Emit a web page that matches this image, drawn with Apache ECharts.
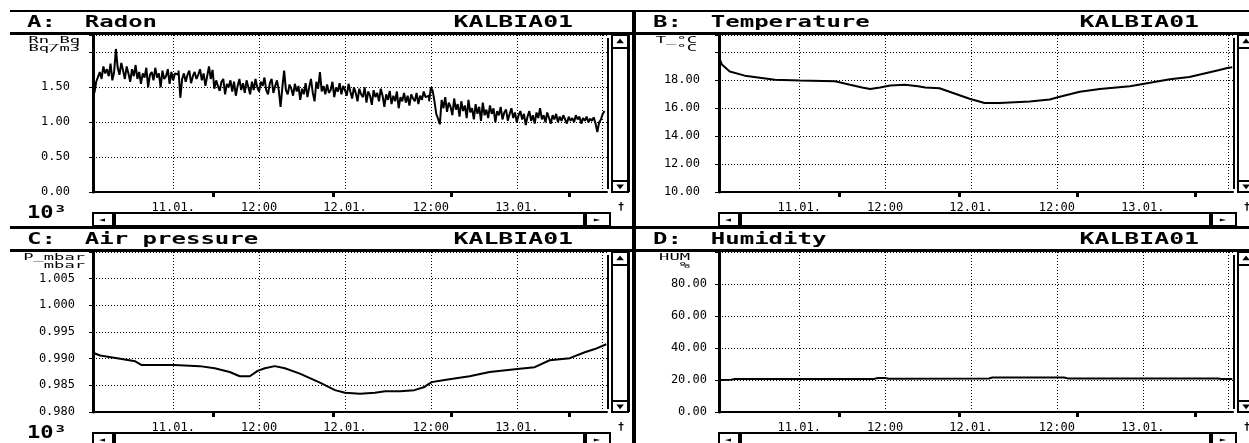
<!DOCTYPE html>
<html>
<head>
<meta charset="utf-8">
<script src="https://cdn.jsdelivr.net/npm/echarts@6/dist/echarts.min.js"></script>
<style>html,body{margin:0;padding:0;background:#fff}#main{width:1249px;height:443px}</style>
</head>
<body>
<div id="main"></div>
<script>
// time in hours from 11.01. 00:00
var xMin = -11.2, xMax = 60.6;
var gridHours = [0, 12, 24, 36, 48, 60];
var gridLabels = ['11.01.', '12:00', '12.01.', '12:00', '13.01.', ''];
var minorHours = [5.6, 22.3, 38.9, 55.3];

// radon, 10^3 Bq/m3, every 15 min from -11.0 h
var radonStart = -11.0, radonStep = 0.25;
var radon = [
  1.42,1.58,1.65,1.72,1.62,1.80,1.70,1.76,1.66,1.84,
  1.60,1.72,2.05,1.78,1.68,1.85,1.74,1.62,1.80,1.70,
  1.58,1.76,1.66,1.82,1.62,1.72,1.55,1.70,1.64,1.78,
  1.50,1.68,1.72,1.60,1.78,1.64,1.70,1.50,1.74,1.62,
  1.66,1.76,1.55,1.72,1.60,1.70,1.68,1.74,1.35,1.62,
  1.70,1.58,1.68,1.74,1.56,1.66,1.72,1.62,1.68,1.76,
  1.60,1.70,1.52,1.66,1.80,1.62,1.75,1.48,1.60,1.52,
  1.45,1.58,1.62,1.40,1.55,1.50,1.60,1.44,1.58,1.38,
  1.52,1.62,1.46,1.56,1.42,1.60,1.50,1.40,1.58,1.46,
  1.62,1.50,1.44,1.58,1.52,1.64,1.46,1.40,1.56,1.62,
  1.42,1.52,1.60,1.46,1.22,1.50,1.74,1.46,1.40,1.54,
  1.48,1.38,1.55,1.44,1.52,1.32,1.48,1.40,1.56,1.36,
  1.50,1.62,1.42,1.30,1.58,1.48,1.72,1.44,1.52,1.40,
  1.54,1.42,1.46,1.58,1.36,1.50,1.44,1.56,1.40,1.52,
  1.46,1.38,1.55,1.44,1.34,1.50,1.42,1.30,1.48,1.40,
  1.36,1.50,1.28,1.44,1.38,1.25,1.46,1.36,1.42,1.30,
  1.48,1.38,1.22,1.40,1.32,1.45,1.26,1.38,1.30,1.44,
  1.20,1.36,1.30,1.42,1.28,1.38,1.24,1.40,1.34,1.30,
  1.42,1.26,1.38,1.32,1.44,1.36,1.38,1.30,1.50,1.45,
  1.30,1.12,1.05,0.97,1.32,1.20,1.36,1.15,1.28,1.22,
  1.10,1.34,1.18,1.26,1.08,1.30,1.16,1.24,1.06,1.32,
  1.14,1.20,1.04,1.26,1.12,1.22,1.02,1.28,1.10,1.18,
  1.06,1.24,1.12,1.20,1.00,1.16,1.10,1.22,1.04,1.14,
  1.18,1.02,1.12,1.20,1.06,1.14,1.00,1.10,1.16,1.04,
  1.12,0.96,1.08,1.16,1.02,1.10,0.98,1.14,1.06,1.20,
  1.04,1.10,1.00,1.14,1.06,0.98,1.10,1.04,1.12,1.00,
  1.08,1.02,1.10,1.04,0.98,1.08,1.02,1.06,1.00,1.10,
  1.04,1.08,0.98,1.06,1.02,1.08,1.00,1.05,1.02,1.07,
  0.98,0.86,1.00,1.04,1.12,1.16];

var tempHours = [-11.2,-10.8,-9.7,-7.6,-5.5,-3.4,0.1,5.0,7.1,8.8,9.9,11.3,12.7,14.8,16.6,17.6,19.6,22.4,23.8,25.9,28.0,32.2,35.0,36.4,39.2,42.0,46.2,49.0,51.8,54.5,56.6,58.7,59.8,60.5];
var tempValues = [19.6,19.1,18.6,18.3,18.15,18.0,17.95,17.9,17.65,17.45,17.35,17.45,17.6,17.65,17.55,17.45,17.4,16.9,16.65,16.35,16.35,16.45,16.6,16.8,17.15,17.35,17.55,17.8,18.05,18.2,18.45,18.7,18.85,18.9];

// air pressure, 10^3 mbar
var presHours = [-11.2,-10.2,-7.4,-5.3,-4.4,0.2,3.7,5.8,7.9,9.3,10.7,11.8,12.8,14.2,15.6,17.7,20.5,22.6,24.0,26.1,28.2,29.6,31.7,33.7,35.1,36.1,37.9,41.4,44.2,48.4,50.5,52.6,55.4,57.5,58.9,60.5];
var presValues = [0.9911,0.9906,0.9900,0.9895,0.9888,0.9888,0.9886,0.9882,0.9875,0.9867,0.9867,0.9877,0.9882,0.9886,0.9882,0.9872,0.9855,0.9841,0.9836,0.9834,0.9836,0.9839,0.9839,0.9841,0.9847,0.9856,0.9860,0.9867,0.9875,0.9881,0.9884,0.9897,0.9901,0.9912,0.9918,0.9927];

var humHours = [-11.2,-9.5,-9.0,10.5,11.0,12.0,12.5,26.5,27.0,37.0,37.5,58.5,59.0,60.5];
var humValues = [20.0,20.2,20.6,20.7,21.2,21.2,20.8,20.9,21.6,21.6,21.0,21.0,20.6,20.6];

function pairs(xs, ys) { return ys.map(function (v, i) { return [xs[i], v]; }); }
var radonData = radon.map(function (v, i) { return [radonStart + i * radonStep, v]; });

var FONT = '"DejaVu Sans Mono", "Liberation Mono", monospace';

var panels = [
  {title: 'A:  Radon', u1: 'Rn_Bq', u2: 'Bq/m3', ux: 80, ox: 0, top: 10, gl: 93, gt: 35, gh: 157,
   min: 0, max: 2.25, interval: 0.5, hideFrom: 2, dec: 2, margin: 23, exp: true, data: radonData, step: 'end'},
  {title: 'B:  Temperature', u1: 'T_\u00b0C', u2: '\u00b0C', ux: 697, ox: 626, top: 10, gl: 719, gt: 35, gh: 157,
   min: 10, max: 21.2, interval: 2, hideFrom: 20, dec: 2, margin: 19, exp: false, data: pairs(tempHours, tempValues)},
  {title: 'C:  Air pressure', u1: 'P_mbar', u2: 'mbar', ux: 85, ox: 0, top: 227, gl: 93, gt: 252, gh: 160,
   min: 0.980, max: 1.010, interval: 0.005, hideFrom: 1.0099, dec: 3, margin: 18, exp: true, data: pairs(presHours, presValues)},
  {title: 'D:  Humidity', u1: 'HUM', u2: '%', ux: 690, ox: 626, top: 227, gl: 719, gt: 252, gh: 160,
   min: 0, max: 100, interval: 20, hideFrom: 100, dec: 2, margin: 12, exp: false, data: pairs(humHours, humValues)}
];

var GW = 514;
var grids = [], xAxes = [], yAxes = [], series = [], gfx = [];

function txt(x, y, s, font, align, sx) {
  return {type: 'text', x: x, y: y, scaleX: sx || 1, silent: true, z: 10,
    style: {text: s, font: font, fill: '#000', textAlign: align, align: align,
            textVerticalAlign: 'middle', verticalAlign: 'middle'}};
}
function box(x, y, w, h, filled, lw) {
  return {type: 'rect', silent: true, z: 10, shape: {x: x, y: y, width: w, height: h},
    style: filled ? {fill: '#000'} : {fill: '#fff', stroke: '#000', lineWidth: lw || 1}};
}

panels.forEach(function (p, i) {
  grids.push({left: p.gl, top: p.gt, width: GW, height: p.gh, containLabel: false});
  xAxes.push({
    gridIndex: i, type: 'value', min: xMin, max: xMax, position: 'bottom',
    axisLine: {show: true, onZero: false, lineStyle: {color: '#000', width: 2}},
    axisTick: {show: false, customValues: gridHours},
    axisLabel: {customValues: gridHours, margin: 10, color: '#000', fontFamily: FONT, fontSize: 12,
      formatter: function (v) { var k = gridHours.indexOf(v); return k < 0 ? '' : gridLabels[k]; }},
    splitLine: {show: true, lineStyle: {color: '#000', width: 1, type: [1, 2]}}
  });
  xAxes.push({
    gridIndex: i, type: 'value', min: xMin, max: xMax, position: 'bottom',
    axisLine: {show: false, onZero: false},
    axisTick: {show: true, customValues: minorHours, length: 5, lineStyle: {color: '#000', width: 3}},
    axisLabel: {show: false}, splitLine: {show: false}
  });
  yAxes.push({
    gridIndex: i, type: 'value', min: p.min, max: p.max, interval: p.interval,
    axisLine: {show: true, onZero: false, lineStyle: {color: '#000', width: 3}},
    axisTick: {show: true, length: 4, lineStyle: {color: '#000', width: 1}},
    axisLabel: {margin: p.margin, color: '#000', fontFamily: FONT, fontSize: 12,
      formatter: function (v) { return v >= p.hideFrom - 1e-9 ? '' : v.toFixed(p.dec); }},
    splitLine: {show: true, lineStyle: {color: '#000', width: 1, type: [1, 2]}}
  });
  series.push({
    type: 'line', xAxisIndex: 2 * i, yAxisIndex: i, data: p.data, step: p.step || false,
    showSymbol: false, symbol: 'none', lineStyle: {color: '#000', width: 2}, animation: false
  });

  // window frame decorations
  var px0 = p.ox ? 636 : 10, px1 = p.ox ? 1249 : 632;
  var right = p.gl + GW, bottom = p.gt + p.gh;
  gfx.push(box(px0, p.top, px1 - px0, 2, true));
  gfx.push(box(px0, p.top + 22, px1 - px0, 3, true));
  gfx.push(txt(px0 + 17, p.top + 13, p.title, 'bold 16px ' + FONT, 'left', 1.5));
  gfx.push(txt(right - 34, p.top + 13, 'KALBIA01', 'bold 16px ' + FONT, 'right', 1.55));
  gfx.push(txt(p.ux, p.gt + 6, p.u1, '9px ' + FONT, 'right', 1.9));
  gfx.push(txt(p.ux, p.gt + 14, p.u2, '9px ' + FONT, 'right', 1.9));
  // plot right edge
  gfx.push(box(right, p.gt + 3, 2, p.gh - 6, true));
  // vertical scrollbar
  var vx = right + 5;
  gfx.push(box(vx, p.gt, 16, p.gh, false, 2));
  gfx.push(box(vx, p.gt + 12, 16, 2, true));
  gfx.push(box(vx, bottom - 12, 16, 2, true));
  gfx.push(txt(vx + 8, p.gt + 6, '\u25b2', '8px ' + FONT, 'center', 1.6));
  gfx.push(txt(vx + 8, bottom - 5, '\u25bc', '8px ' + FONT, 'center', 1.6));
  gfx.push(box(vx + 15, p.gt, 3, p.gh, true));
  // horizontal scrollbar
  var hy = bottom + 21;
  gfx.push(box(p.gl, hy, GW + 3, 13, false, 2));
  gfx.push(box(p.gl + 19, hy, 4, 13, true));
  gfx.push(box(right - 24, hy, 4, 13, true));
  gfx.push(txt(p.gl + 9, hy + 7, '\u25c4', '8px ' + FONT, 'center', 1.3));
  gfx.push(txt(right - 10, hy + 7, '\u25ba', '8px ' + FONT, 'center', 1.3));
  gfx.push(txt(right + 14, bottom + 15, '\u2020', 'bold 11px ' + FONT, 'center', 1));
  if (p.exp) gfx.push(txt(27, bottom + 22, '10\u00b3', 'bold 17px ' + FONT, 'left', 1.3));
  if (p.top === 10) gfx.push(box(px0, 226, px1 - px0, 3, true));
});
// vertical divider between the left and right windows
gfx.push(box(632, 10, 4, 433, true));

var chart = echarts.init(document.getElementById('main'));
chart.setOption({
  animation: false,
  backgroundColor: '#fff',
  grid: grids, xAxis: xAxes, yAxis: yAxes, series: series,
  graphic: {elements: gfx}
});
</script>
</body>
</html>
